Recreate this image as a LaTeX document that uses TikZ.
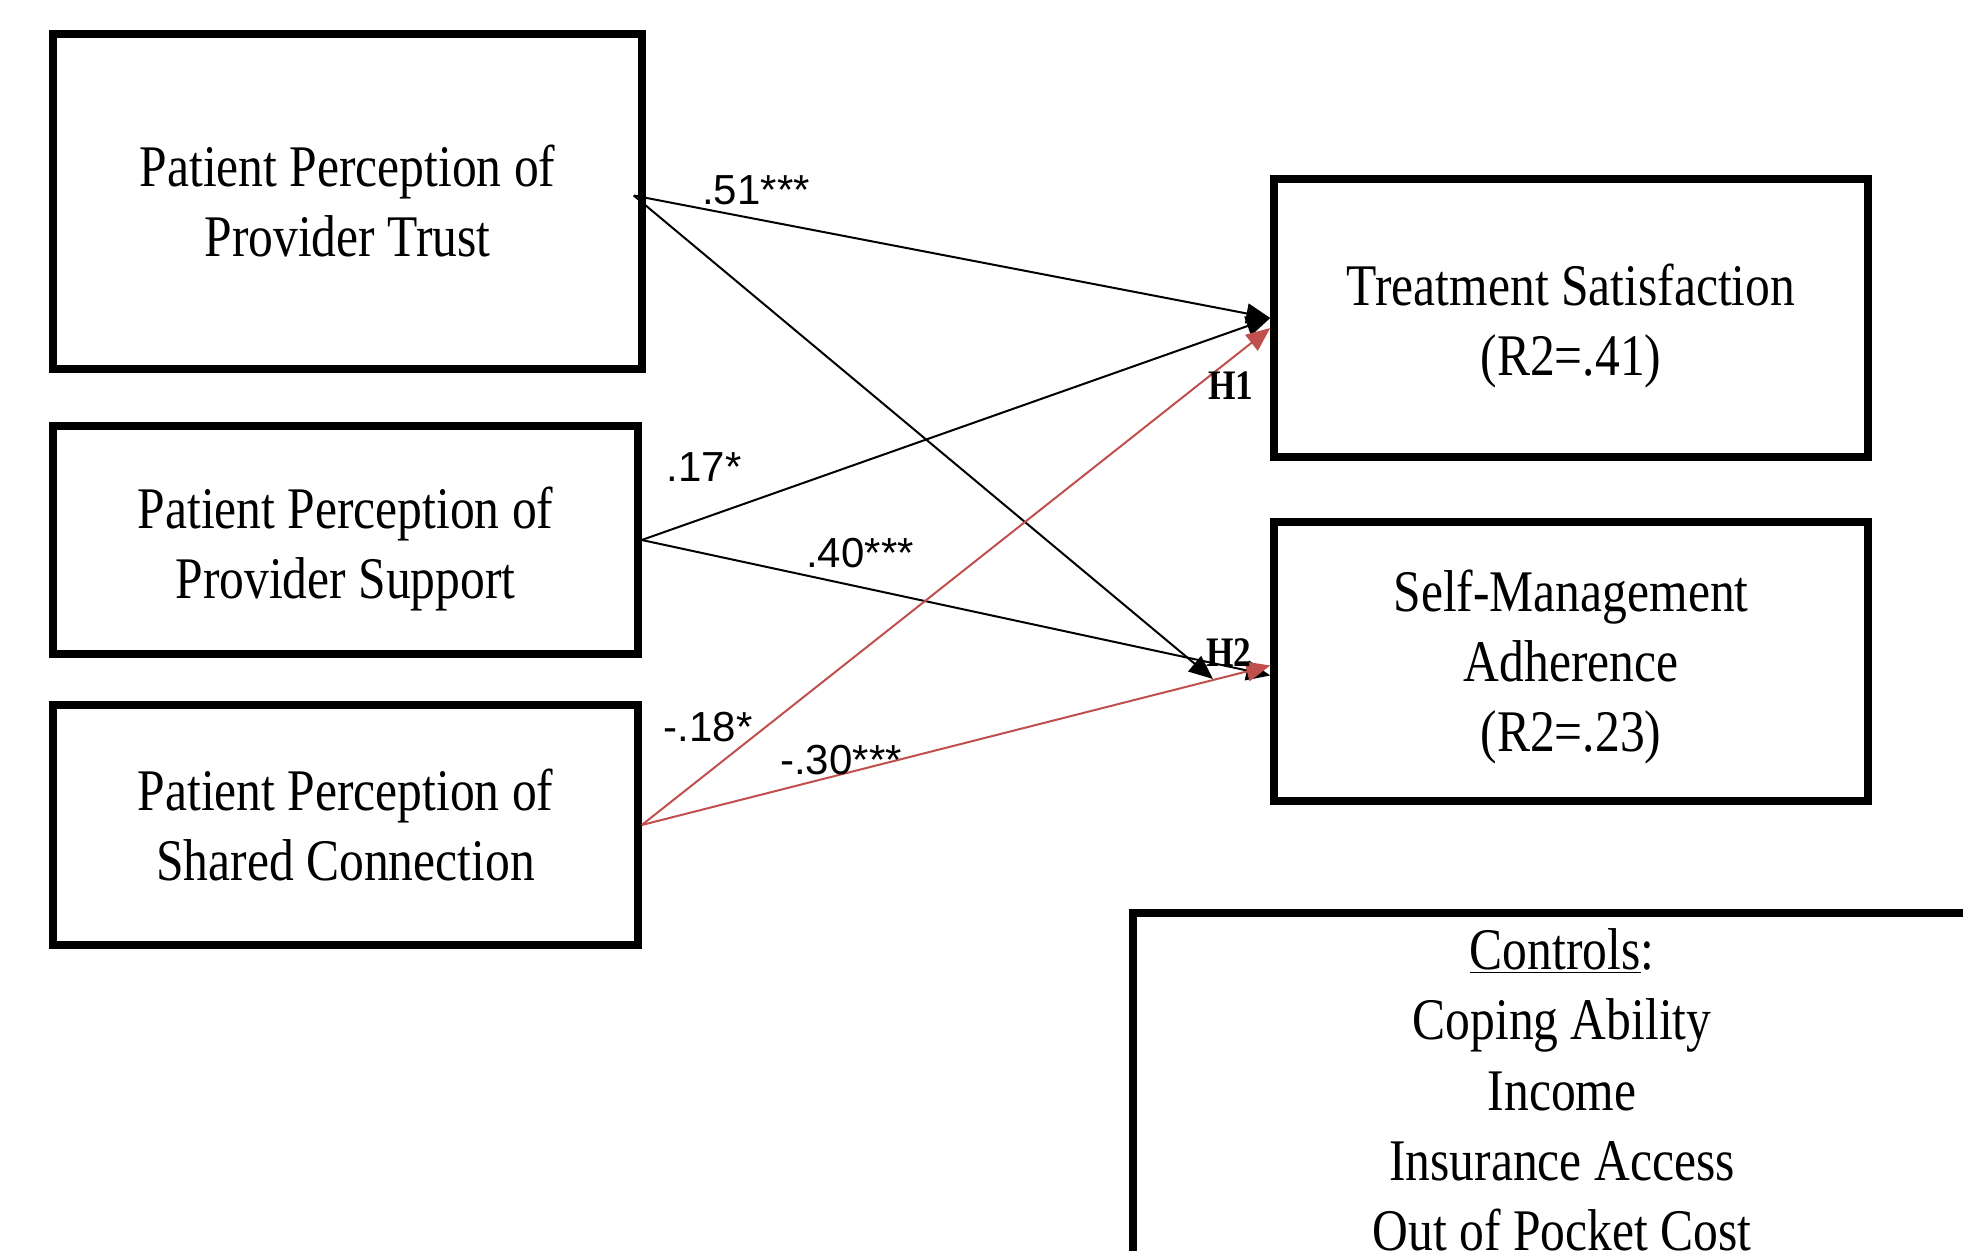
\documentclass[tikz,border=0pt]{standalone}
\usepackage{fontspec}
\setmainfont{Liberation Serif}[FakeStretch=0.84]
\newfontfamily\labfont{Liberation Sans}
\usetikzlibrary{arrows.meta}
\definecolor{redline}{HTML}{C0504D}
\tikzset{
  box/.style={draw, line width=3.75pt, inner sep=0pt},
  boxtext/.style={inner sep=0pt, align=center,
    font=\fontsize{29.5pt}{35pt}\selectfont},
  conn/.style={line width=1pt, -{Triangle[length=12pt,width=10pt]}},
  redconn/.style={conn, draw=redline, -{Triangle[length=12pt,width=10pt,fill=redline]}},
  coef/.style={font=\labfont\fontsize{21pt}{24pt}\selectfont, inner sep=0pt},
  hyp/.style={font=\bfseries\fontsize{21pt}{24pt}\selectfont, inner sep=0pt}
}
\begin{document}
\begin{tikzpicture}[x=0.5pt,y=-0.5pt]
\clip (0,0) rectangle (1963,1251);
\fill[white] (0,0) rectangle (1963,1251);

\node[box, minimum width=294.5pt, minimum height=167.5pt] (trust) at (347.5,201.5) {};
\node[boxtext] (trustT) at (trust.center) {Patient Perception of\\Provider Trust};
\node[box, minimum width=292.5pt, minimum height=114pt] (support) at (345.5,540) {};
\node[boxtext] (supportT) at ([yshift=-4.5pt]support.center) {Patient Perception of\\Provider Support};
\node[box, minimum width=292.5pt, minimum height=120pt] (shared) at (345.5,825) {};
\node[boxtext] (sharedT) at (shared.center) {Patient Perception of\\Shared Connection};
\node[box, minimum width=297pt, minimum height=139pt] (treat) at (1571,318) {};
\node[boxtext] (treatT) at ([yshift=-4pt]treat.center) {Treatment Satisfaction\\(R2=.41)};
\node[box, minimum width=297pt, minimum height=139.5pt] (self) at (1571,661.5) {};
\node[boxtext] (selfT) at ([yshift=-3pt]self.center) {Self-Management\\Adherence\\(R2=.23)};

\draw[line width=3.75pt] (1133,1300) -- (1133,913) -- (2000,913);
\node[font=\fontsize{29.5pt}{35.2pt}\selectfont, align=center, anchor=north, inner sep=0pt] (controls) at (1562,928)
  {\underline{Controls}:\\Coping Ability\\Income\\Insurance Access\\Out of Pocket Cost};

\coordinate (h2tip) at (1213,679);

\draw[conn] ([xshift=-6pt,yshift=3pt]trust.east) -- (treat.west);
\draw[conn] ([xshift=-6pt,yshift=3pt]trust.east) -- (h2tip);
\draw[conn] (support.east) -- (treat.west);
\draw[conn] (support.east) -- ([yshift=-7pt]self.west);
\draw[redconn] (shared.east) -- ([yshift=-5pt]treat.west);
\draw[redconn] (shared.east) -- ([yshift=-2pt]self.west);

\node[coef] (l51) at (756,190) {.51***};
\node[coef] (l17) at (704,467) {.17*};
\node[coef] (l40) at (860,553) {.40***};
\node[coef] (l18) at (708,727) {-.18*};
\node[coef] (l30) at (841,760) {-.30***};
\node[hyp] (h1) at (1231,386) {H1};
\node[hyp] (h2) at (1229,653) {H2};
\end{tikzpicture}
\end{document}
